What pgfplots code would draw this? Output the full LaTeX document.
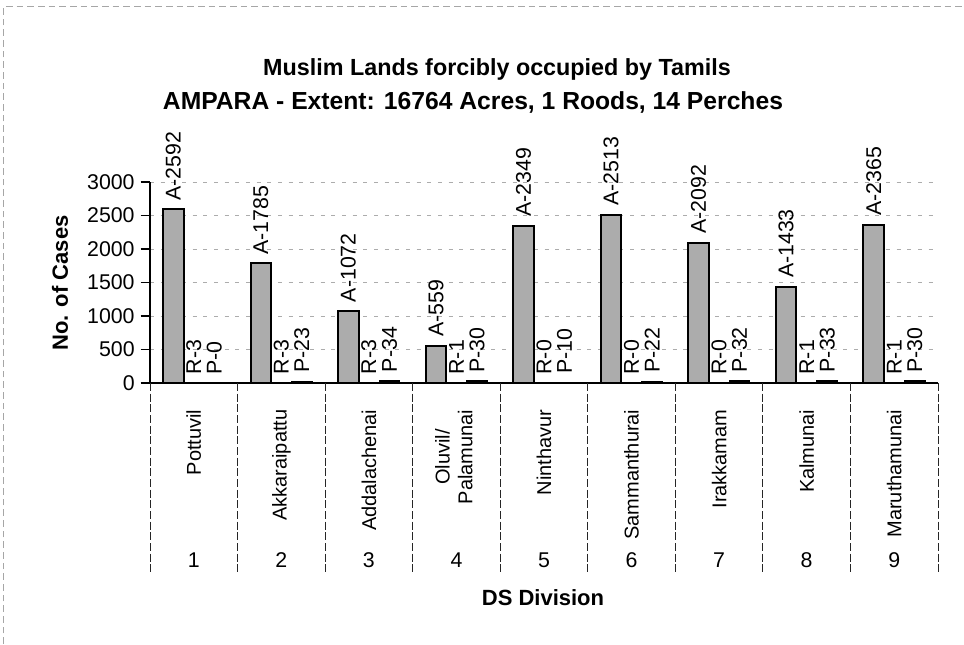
\documentclass[border=0pt]{standalone}
\usepackage{fontspec}
\setmainfont{Liberation Sans}
\usepackage{pgfplots}
\pgfplotsset{compat=1.18}

\newcommand{\rl}[1]{\rotatebox{90}{\fontsize{15}{17}\selectfont #1}}

\begin{document}
\begin{tikzpicture}[x=1pt,y=1pt]
\useasboundingbox (0,0) rectangle (723,483);
% scanned page frame
\draw[gray!70, line width=0.6pt, dash pattern=on 5pt off 3pt] (2.5,0) -- (2.5,478) -- (723,478);

\begin{axis}[
  at={(112.5pt,195.75pt)}, anchor=south west,
  scale only axis, width=591pt, height=150.75pt,
  xmin=0.5, xmax=9.5, ymin=0, ymax=3000,
  ybar=0pt, bar width=15.4pt,
  axis lines*=left,
  axis line style={black, line width=0.8pt},
  ytick={0,500,...,3000},
  tick align=outside, major tick length=7pt,
  ytick style={black, line width=0.8pt},
  xtick={1,...,9}, xtick style={draw=none},
  xticklabels={\rl{Pottuvil}, \rl{Akkaraipattu}, \rl{Addalachenai},
    {\rl{\begin{tabular}{@{}c@{}}Oluvil/\\Palamunai\end{tabular}}},
    \rl{Ninthavur}, \rl{Sammanthurai}, \rl{Irakkamam}, \rl{Kalmunai}, \rl{Maruthamunai}},
  xticklabel style={anchor=north, inner sep=0pt, yshift=-12.75pt},
  extra x ticks={1,...,9},
  extra x tick labels={1,2,3,4,5,6,7,8,9},
  extra x tick style={major tick length=0pt,
    xticklabel style={anchor=base, yshift=-125.25pt}},
  ymajorgrids,
  major grid style={gray!65, line width=0.6pt, dash pattern=on 3pt off 5pt},
  /pgf/number format/1000 sep={},
  /pgf/number format/assume math mode=true,
  tick label style={font=\fontsize{16}{18}\selectfont},
  yticklabel style={xshift=-1pt},
  nodes near coords style={rotate=90, anchor=west, inner sep=6pt,
    font=\fontsize{16}{18}\selectfont, black},
  clip=false,
]
\addplot[fill=gray!65, draw=black, line width=1.5pt,
  nodes near coords={A-\pgfmathprintnumber{\pgfplotspointmeta}}]
  coordinates {(1,2592) (2,1785) (3,1072) (4,559) (5,2349) (6,2513) (7,2092) (8,1433) (9,2365)};
\addplot[fill=black, draw=black, line width=0.8pt,
  nodes near coords={R-\pgfmathprintnumber{\pgfplotspointmeta}}]
  coordinates {(1,3) (2,3) (3,3) (4,1) (5,0) (6,0) (7,0) (8,1) (9,1)};
\addplot[fill=black, draw=black, line width=0.8pt,
  nodes near coords={P-\pgfmathprintnumber{\pgfplotspointmeta}}]
  coordinates {(1,0) (2,23) (3,34) (4,30) (5,10) (6,22) (7,32) (8,33) (9,30)};

% category separators of the table under the axis
\pgfplotsinvokeforeach{0.5,1.5,...,9.5}{
  \draw[black!85, line width=0.6pt, dash pattern=on 6pt off 2pt]
    (axis cs:#1,0) -- ++(0pt,-141.75pt);
}
\end{axis}

\node[font=\bfseries\fontsize{17.5}{20}\selectfont] at (372.75,431) {Muslim Lands forcibly occupied by Tamils};
\node[font=\bfseries\fontsize{18.5}{22}\selectfont] at (354.75,406) {AMPARA - Extent: 16764 Acres, 1 Roods, 14 Perches};
\node[rotate=90, font=\bfseries\fontsize{16.5}{19}\selectfont] at (45,270.75) {No. of Cases};
\node[font=\bfseries\fontsize{16.5}{19}\selectfont] at (407.25,34.5) {DS Division};
\end{tikzpicture}
\end{document}
